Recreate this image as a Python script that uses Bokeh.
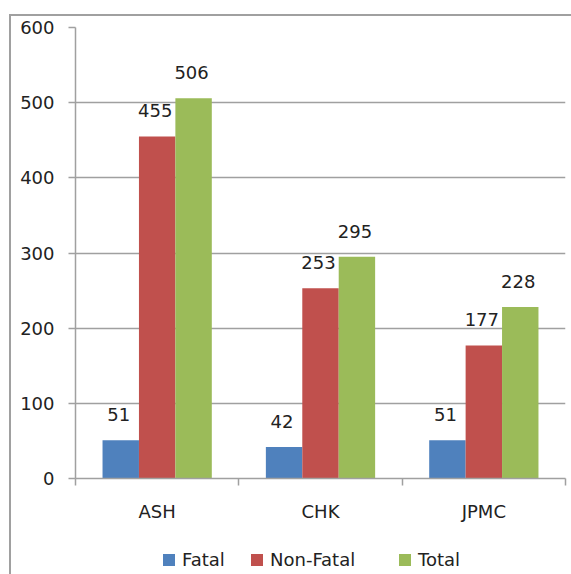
from bokeh.plotting import figure
from bokeh.layouts import column
from bokeh.models import ColumnDataSource, FixedTicker, Legend, LegendItem, Range1d
from bokeh.core.properties import value
from bokeh.embed import file_html
from bokeh.resources import INLINE

categories = ["ASH", "CHK", "JPMC"]
series_names = ["Fatal", "Non-Fatal", "Total"]
fatal = [51, 42, 51]
non_fatal = [455, 253, 177]
total = [506, 295, 228]
series_values = [fatal, non_fatal, total]
colors = ["#4F81BD", "#C0504D", "#9BBB59"]
y_ticks = [0, 100, 200, 300, 400, 500, 600]

FONT = "DejaVu Sans"
FS = "18px"
TXT = "#222222"
GRAY = "#a0a0a0"

p = figure(width=560, height=519, x_range=Range1d(0, 3), y_range=Range1d(0, 600),
           output_backend="svg", toolbar_location=None,
           min_border_left=64, min_border_right=6, min_border_top=11, min_border_bottom=57)
p.outline_line_color = None
p.background_fill_color = "white"
p.border_fill_color = "white"

bar_w = 0.223
for j, (name, vals, col) in enumerate(zip(series_names, series_values, colors)):
    xs = [i + 0.5 + (j - 1) * bar_w for i in range(len(categories))]
    src = ColumnDataSource(dict(x=xs, top=vals, lab=[str(v) for v in vals]))
    p.vbar(x="x", top="top", width=bar_w, source=src, fill_color=col, line_color=None)
    p.text(x="x", y="top", text="lab", source=src, text_align="center", text_baseline="bottom",
           x_offset=-2, y_offset=-19, text_font=value(FONT), text_font_size=FS, text_color=TXT)

# y axis
p.yaxis.ticker = FixedTicker(ticks=y_ticks)
p.yaxis.major_tick_out = 7
p.yaxis.major_tick_in = 0
p.yaxis.minor_tick_out = 0
p.yaxis.minor_tick_in = 0
p.yaxis.axis_line_color = GRAY
p.yaxis.axis_line_width = 1.5
p.yaxis.major_tick_line_color = GRAY
p.yaxis.major_tick_line_width = 1.5
p.yaxis.major_label_standoff = 14
p.yaxis.major_label_text_font = FONT
p.yaxis.major_label_text_font_size = FS
p.yaxis.major_label_text_color = TXT

# x axis
centers = [i + 0.5 for i in range(len(categories))]
p.xaxis.ticker = FixedTicker(ticks=centers, minor_ticks=list(range(len(categories) + 1)))
p.xaxis.major_label_overrides = {c: n for c, n in zip(centers, categories)}
p.xaxis.major_tick_out = 0
p.xaxis.major_tick_in = 0
p.xaxis.minor_tick_out = 7
p.xaxis.minor_tick_in = 0
p.xaxis.minor_tick_line_color = GRAY
p.xaxis.minor_tick_line_width = 1.5
p.xaxis.axis_line_color = GRAY
p.xaxis.axis_line_width = 1.5
p.xaxis.major_label_standoff = 15
p.xaxis.major_label_text_font = FONT
p.xaxis.major_label_text_font_size = FS
p.xaxis.major_label_text_color = TXT

p.xgrid.visible = False
p.ygrid.grid_line_color = GRAY
p.ygrid.grid_line_width = 1.5

# legend strip (proxy renderers sit outside the visible range)
lf = figure(width=560, height=39, x_range=Range1d(0, 1), y_range=Range1d(0, 1),
            output_backend="svg", toolbar_location=None,
            min_border_left=0, min_border_right=0, min_border_top=0, min_border_bottom=0)
lf.axis.visible = False
lf.grid.visible = False
lf.outline_line_color = None
lf.border_fill_color = "white"
legend_x = [86, 174, 322]
for name, col, lx in zip(series_names, colors, legend_x):
    r = lf.vbar(x=[-5], top=[0], width=0.1, fill_color=col, line_color=None)
    lg = Legend(items=[LegendItem(label=name, renderers=[r])], location=(lx, 4),
                orientation="horizontal",
                background_fill_alpha=0, border_line_color=None, padding=0, margin=0,
                glyph_width=15, glyph_height=15, label_standoff=6, spacing=0,
                label_text_font=FONT, label_text_font_size=FS, label_text_color=TXT,
                label_height=20)
    lf.add_layout(lg)

layout = column(p, lf, spacing=0)
layout.styles = {"border-left": "2px solid #a0a0a0", "border-top": "2px solid #a0a0a0",
                 "margin-left": "9px", "margin-top": "14px"}

open("out.html", "w").write(file_html(layout, INLINE))
